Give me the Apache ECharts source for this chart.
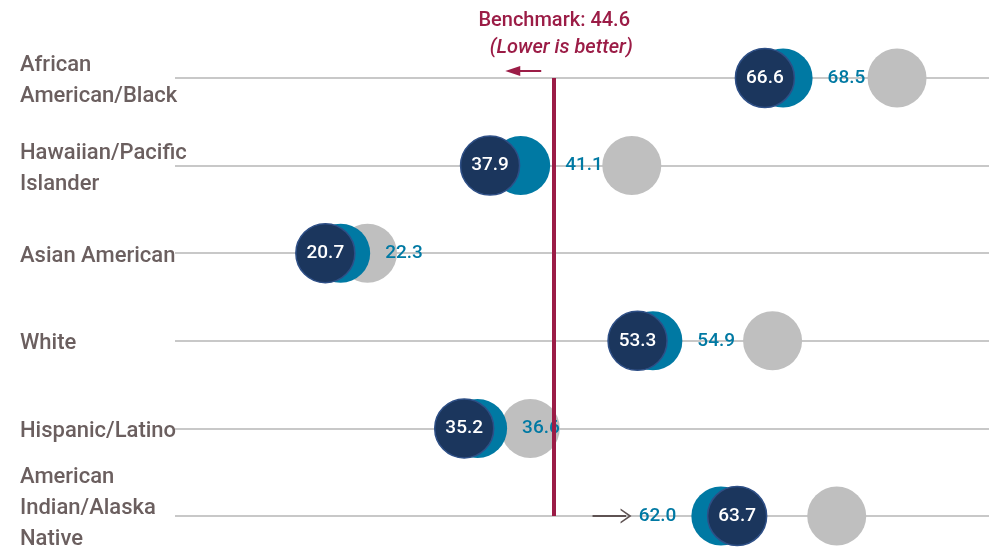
<!DOCTYPE html>
<html>
<head>
<meta charset="utf-8">
<script src="https://cdn.jsdelivr.net/npm/echarts@6/dist/echarts.min.js"></script>
<style>
  html, body { margin: 0; padding: 0; background: #fff; }
  #main { width: 997px; height: 547px; }
</style>
</head>
<body>
<div id="main"></div>
<script>
var chartDom = document.getElementById('main');
var myChart = echarts.init(chartDom);

// data
var groups = ['African\nAmerican/Black', 'Hawaiian/Pacific\nIslander', 'Asian American', 'White', 'Hispanic/Latino', 'American\nIndian/Alaska\nNative'];
var earlier = [80.4, 52.7, 25.1, 67.4, 42.1, 74.1];   // grey dots
var previous = [68.5, 41.1, 22.3, 54.9, 36.6, 62.0];  // teal dots (labelled)
var current = [66.6, 37.9, 20.7, 53.3, 35.2, 63.7];   // navy dots (labelled)
var benchmark = 44.6;

var NAVY = '#1b365d';
var TEAL = '#0079a3';
var GREY = '#bfbfbf';
var CRIMSON = '#9b1c46';
var LABEL = '#6b5f5f';
var FONT = 'Roboto, "Liberation Sans", sans-serif';

function pairs(vals) {
    return vals.map(function (v, i) { return [v, groups[i]]; });
}

var tealData = previous.map(function (v, i) {
    var item = { value: [v, groups[i]] };
    // last row has its label on the left of the dot
    if (i === groups.length - 1) item.label = { position: 'left', distance: 15 };
    return item;
});

var option = {
    animation: false,
    grid: { left: 175, right: 8, top: 78, bottom: 31, containLabel: false, outerBoundsMode: 'none' },
    xAxis: {
        type: 'value',
        min: 5,
        max: 90,
        show: false
    },
    yAxis: {
        type: 'category',
        inverse: true,
        boundaryGap: false,
        data: groups,
        axisLine: { show: false },
        axisTick: { show: false },
        splitLine: { show: true, lineStyle: { color: '#c8c8c8', width: 2 } },
        axisLabel: {
            align: 'left',
            margin: 155,
            color: LABEL,
            fontFamily: FONT,
            fontWeight: 500,
            fontSize: 22,
            lineHeight: 31,
            // spacer lines nudge the labels vertically like the original
            formatter: function (v, i) {
                if (i === groups.length - 1) return v + '\n{s| }';
                return '{t| }\n' + v;
            },
            rich: {
                s: { fontSize: 1, lineHeight: 16 },
                t: { fontSize: 1, lineHeight: 6 }
            }
        }
    },
    series: [
        {
            name: 'Earlier',
            type: 'scatter',
            clip: false,
            symbolSize: 59,
            itemStyle: { color: GREY, opacity: 1 },
            data: pairs(earlier)
        },
        {
            name: 'Previous',
            type: 'scatter',
            clip: false,
            symbolSize: 59,
            itemStyle: { color: TEAL, opacity: 1 },
            label: {
                show: true,
                position: 'right',
                distance: 15,
                color: TEAL,
                fontFamily: FONT,
                fontWeight: 500,
                fontSize: 19,
                formatter: function (p) { return p.value[0].toFixed(1); }
            },
            data: tealData,
            markLine: {
                silent: true,
                symbol: ['none', 'path://M0,10 L6,0 L12,10 L10.6,10 L6,2.6 L1.4,10 Z'],
                symbolSize: [15, 11],
                label: { show: false },
                lineStyle: { color: '#5e5252', width: 2, type: 'solid' },
                data: [[{ coord: [48.6, groups[5]] }, { coord: [52.1, groups[5]] }]]
            }
        },
        {
            name: 'Current',
            type: 'scatter',
            clip: false,
            symbolSize: 59,
            itemStyle: { color: NAVY, opacity: 1, borderColor: '#2e4f86', borderWidth: 1.5 },
            label: {
                show: true,
                position: 'inside',
                color: '#ffffff',
                fontFamily: FONT,
                fontWeight: 500,
                fontSize: 19,
                formatter: function (p) { return p.value[0].toFixed(1); }
            },
            data: pairs(current),
            markLine: {
                silent: true,
                symbol: ['none', 'none'],
                lineStyle: { color: CRIMSON, width: 4, type: 'solid' },
                label: {
                    show: true,
                    position: 'start',
                    distance: 17,
                    color: CRIMSON,
                    fontFamily: FONT,
                    fontSize: 20,
                    fontWeight: 500,
                    lineHeight: 27,
                    formatter: 'Benchmark: ' + benchmark + '\n{i|(Lower is better)}',
                    rich: {
                        i: { fontStyle: 'italic', fontSize: 20, fontWeight: 500, color: CRIMSON, lineHeight: 27, padding: [0, 0, 0, 14] }
                    }
                },
                data: [{ xAxis: benchmark }]
            }
        }
    ]
};

myChart.setOption(option);

// small "lower is better" arrow just above the top row
var p = myChart.convertToPixel({ seriesIndex: 2 }, [benchmark, groups[0]]);
var ay = p[1] - 7;
myChart.setOption({
    graphic: [
        {
            type: 'line',
            shape: { x1: p[0] - 13, y1: ay, x2: p[0] - 36, y2: ay },
            style: { stroke: CRIMSON, lineWidth: 2 }
        },
        {
            type: 'polygon',
            shape: { points: [[p[0] - 49, ay], [p[0] - 34, ay - 5], [p[0] - 34, ay + 5]] },
            style: { fill: CRIMSON }
        }
    ]
});
</script>
</body>
</html>
